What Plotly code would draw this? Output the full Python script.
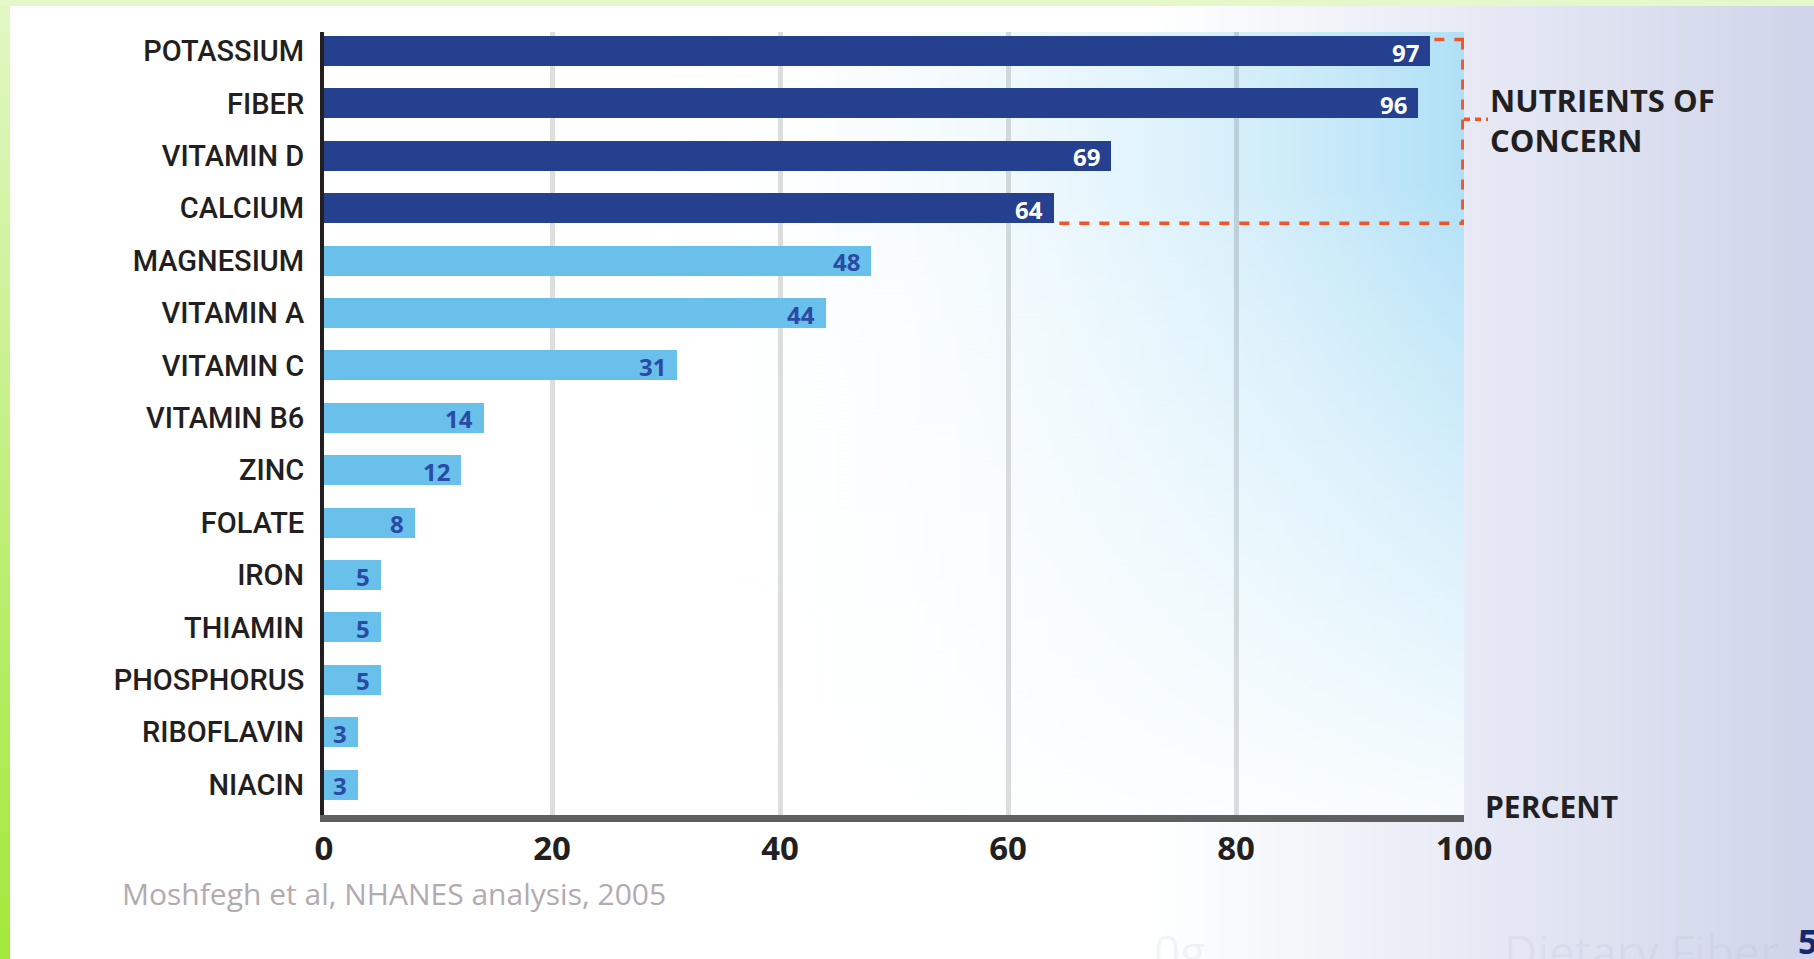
import base64
import plotly.graph_objects as go

# ---------------- data ----------------
nutrients = ["POTASSIUM", "FIBER", "VITAMIN D", "CALCIUM", "MAGNESIUM", "VITAMIN A",
             "VITAMIN C", "VITAMIN B6", "ZINC", "FOLATE", "IRON", "THIAMIN",
             "PHOSPHORUS", "RIBOFLAVIN", "NIACIN"]
percent = [97, 96, 69, 64, 48, 44, 31, 14, 12, 8, 5, 5, 5, 3, 3]
of_concern = [True, True, True, True, False, False, False, False, False, False,
              False, False, False, False, False]
x_ticks = [0, 20, 40, 60, 80, 100]
concern_label = ["NUTRIENTS OF", "CONCERN"]
axis_title = "PERCENT"
source_note = "Moshfegh et al, NHANES analysis, 2005"
page_number = "5"

# ---------------- style ----------------
W, H = 1814, 959
ML, MR, MT, MB = 324, 350, 32, 144
PW, PH = W - ML - MR, H - MT - MB
DARK = "#24408e"
LIGHT = "#69c0ea"
TXT = "#231f20"
ORANGE = "#f0552a"
BAR_W = 0.573
Y_RANGE = [14.58, -0.363]
X_RANGE = [0, 100]


def px(xp):
    """page pixel x -> paper fraction"""
    return (xp - ML) / PW


def py(yp):
    """page pixel y (from top) -> paper fraction"""
    return (H - MB - yp) / PH


ypos = list(range(len(nutrients)))
bar_colors = [DARK if c else LIGHT for c in of_concern]

fig = go.Figure()
fig.add_trace(go.Bar(
    x=percent, y=ypos, orientation="h", width=BAR_W,
    marker=dict(color=bar_colors, line=dict(width=0)),
    hoverinfo="skip", showlegend=False,
))

# ---- plot-area background: white + light-blue highlight fading left & down (SVG image)
blue_start = 0.28
fade_start = (2.5 - Y_RANGE[1]) / (Y_RANGE[0] - Y_RANGE[1])
bstops = "".join(
    '<stop offset="%.4f" stop-color="rgb(176,224,246)" stop-opacity="%.4f"/>'
    % (blue_start + (1 - blue_start) * k / 10, (k / 10) ** 2) for k in range(11))
fstops = "".join(
    '<stop offset="%.4f" stop-color="white" stop-opacity="%.4f"/>'
    % (fade_start + (1 - fade_start) * k / 10, 0.9 * (k / 10) ** 0.9) for k in range(11))
svg = (
    '<svg xmlns="http://www.w3.org/2000/svg" width="%d" height="%d" viewBox="0 0 %d %d" '
    'preserveAspectRatio="none"><defs>'
    '<linearGradient id="b" x1="0" y1="0" x2="1" y2="0">%s</linearGradient>'
    '<linearGradient id="f" x1="0" y1="0" x2="0" y2="1">%s</linearGradient></defs>'
    '<rect x="0" y="0" width="%d" height="%d" fill="white"/>'
    '<rect x="0" y="0" width="%d" height="%d" fill="url(#b)"/>'
    '<rect x="0" y="0" width="%d" height="%d" fill="url(#f)"/></svg>'
    % (PW, PH, PW, PH, bstops, fstops, PW, PH, PW, PH, PW, PH))
svg_uri = "data:image/svg+xml;base64," + base64.b64encode(svg.encode()).decode()

images = [dict(source=svg_uri, xref="x", yref="y", x=X_RANGE[0], y=Y_RANGE[1],
               sizex=X_RANGE[1] - X_RANGE[0], sizey=Y_RANGE[0] - Y_RANGE[1],
               xanchor="left", yanchor="top", sizing="stretch", layer="below")]

shapes = []


def lerp(c0, c1, t):
    return tuple(round(a + (b - a) * t) for a, b in zip(c0, c1))


# page background gradient (white -> lavender on the right)
n = 48
x_start = 1150
for i in range(n):
    a = x_start + (W - x_start) * i / n
    b = x_start + (W - x_start) * (i + 1) / n + 1
    t = (i + 0.5) / n
    c = lerp((255, 255, 255), (206, 212, 234), t)
    shapes.append(dict(type="rect", xref="paper", yref="paper", layer="below",
                       x0=px(a), x1=px(min(b, W)), y0=py(H), y1=py(0),
                       fillcolor="rgb(%d,%d,%d)" % c, line=dict(width=0)))

# green left stripe (vertical gradient)
n = 30
for i in range(n):
    t = (i + 0.5) / n
    c = lerp((226, 247, 196), (162, 232, 58), t)
    ya = H * i / n
    yb = min(H * (i + 1) / n + 1, H)
    shapes.append(dict(type="rect", xref="paper", yref="paper", layer="below",
                       x0=px(0), x1=px(10), y0=py(yb), y1=py(ya),
                       fillcolor="rgb(%d,%d,%d)" % c, line=dict(width=0)))
# green top stripe
shapes.append(dict(type="rect", xref="paper", yref="paper", layer="below",
                   x0=px(0), x1=px(W), y0=py(6), y1=py(0),
                   fillcolor="#e5f8ca", line=dict(width=0)))

# dashed "nutrients of concern" bracket
dash = dict(color=ORANGE, width=3.5, dash="10px,10px")
y_bot = 3 + BAR_W / 2
y_top = -0.22
shapes.append(dict(type="line", xref="x", yref="y", layer="above",
                   x0=percent[3] + 0.5, x1=100, y0=y_bot, y1=y_bot, line=dash))
shapes.append(dict(type="line", xref="x", yref="y", layer="above",
                   x0=100 - 0.1, x1=100 - 0.1, y0=y_top, y1=y_bot, line=dash))
shapes.append(dict(type="line", xref="x", yref="y", layer="above",
                   x0=percent[0] + 0.4, x1=100, y0=y_top, y1=y_top, line=dash))
shapes.append(dict(type="line", xref="paper", yref="y", layer="above",
                   x0=px(1464), x1=px(1488), y0=1.3, y1=1.3,
                   line=dict(color=ORANGE, width=3.5, dash="6px,5px")))

annotations = []
# value labels on bars
for v, yy, c in zip(percent, ypos, of_concern):
    annotations.append(dict(
        x=v, y=yy, xref="x", yref="y", text=str(v), showarrow=False,
        xanchor="right", yanchor="middle", xshift=-9, yshift=-1,
        font=dict(family="Open Sans", size=24, weight=700,
                  color="white" if c else "#2a4aa6")))

annotations.append(dict(text="<br>".join(concern_label), xref="paper", yref="paper",
                        x=px(1488), y=py(120), xanchor="left", yanchor="middle",
                        align="left", showarrow=False,
                        font=dict(family="Open Sans", size=31, weight=700, color=TXT)))
annotations.append(dict(text=axis_title, xref="paper", yref="paper",
                        x=px(1483), y=py(806.5), xanchor="left", yanchor="middle",
                        showarrow=False, font=dict(family="Open Sans", size=30,
                                                   weight=700, color=TXT)))
annotations.append(dict(text=source_note, xref="paper", yref="paper",
                        x=px(120), y=py(893), xanchor="left", yanchor="middle",
                        showarrow=False,
                        font=dict(family="Open Sans", size=30, color="#b1abb0")))
annotations.append(dict(text=page_number, xref="paper", yref="paper",
                        x=px(1796), y=py(941), xanchor="left", yanchor="middle",
                        showarrow=False,
                        font=dict(family="Open Sans", size=34, weight=700, color="#13296b")))
# faint ghost text at the bottom of the slide
ghost = dict(family="Open Sans", size=46, color="rgba(160,168,200,0.12)")
annotations.append(dict(text="0g", xref="paper", yref="paper", x=px(1152), y=py(918),
                        xanchor="left", yanchor="top", showarrow=False, font=ghost))
annotations.append(dict(text="Dietary Fiber", xref="paper", yref="paper", x=px(1502),
                        y=py(918), xanchor="left", yanchor="top", showarrow=False,
                        font=ghost))

fig.update_layout(
    width=W, height=H,
    margin=dict(l=ML, r=MR, t=MT, b=MB, pad=0),
    paper_bgcolor="white",
    plot_bgcolor="rgba(0,0,0,0)",
    shapes=shapes,
    images=images,
    annotations=annotations,
    bargap=0,
    showlegend=False,
    xaxis=dict(
        range=X_RANGE, tickvals=x_ticks, ticktext=[str(v) for v in x_ticks],
        showgrid=True, gridcolor="rgba(0,0,0,0.13)", gridwidth=5,
        zeroline=False, showline=True, linecolor="#5f5f5f", linewidth=7,
        ticks="", ticklabelstandoff=-2,
        tickfont=dict(family="Open Sans", size=33, weight=700, color=TXT),
        fixedrange=True,
    ),
    yaxis=dict(
        range=Y_RANGE, tickvals=ypos, ticktext=nutrients,
        showgrid=False, zeroline=False, showline=True, linecolor="#231f20",
        linewidth=4, ticks="", ticklabelstandoff=10,
        tickfont=dict(family="Roboto", size=29, weight=500, color=TXT),
        fixedrange=True,
    ),
)

fig.write_html("out.html", config=dict(displayModeBar=False))
